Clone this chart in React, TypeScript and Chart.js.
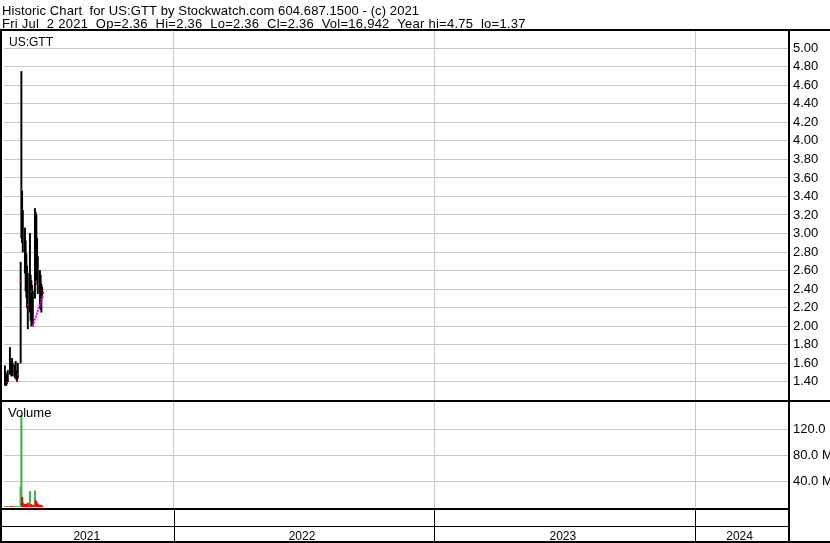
import React, { useEffect, useRef } from 'react';
import { Chart, registerables } from 'chart.js';

Chart.register(...registerables);

// ---------- data ----------
const tradeDates = [
  '2021-05-10', '2021-05-11', '2021-05-12', '2021-05-13', '2021-05-14',
  '2021-05-17', '2021-05-18', '2021-05-19', '2021-05-20', '2021-05-21',
  '2021-05-24', '2021-05-25', '2021-05-26', '2021-05-27', '2021-05-28',
  '2021-06-01', '2021-06-02', '2021-06-03', '2021-06-04',
  '2021-06-07', '2021-06-08', '2021-06-09', '2021-06-10', '2021-06-11',
  '2021-06-14', '2021-06-15', '2021-06-16', '2021-06-17', '2021-06-18',
  '2021-06-21', '2021-06-22', '2021-06-23', '2021-06-24', '2021-06-25',
  '2021-06-28', '2021-06-29', '2021-06-30', '2021-07-01', '2021-07-02',
];
const highs = [
  1.57, 1.50, 1.47, 1.45, 1.52,
  1.77, 1.62, 1.58, 1.65, 1.60,
  1.58, 1.62, 1.52, 1.47, 1.60,
  2.69, 4.75, 3.46, 3.25,
  3.06, 2.92, 2.78, 2.65, 2.57,
  3.00, 2.55, 2.49, 2.44, 2.38,
  3.27, 3.23, 3.20, 2.95, 2.75,
  2.60, 2.55, 2.45, 2.42, 2.37,
];
const lows = [
  1.36, 1.37, 1.36, 1.38, 1.40,
  1.48, 1.48, 1.46, 1.50, 1.46,
  1.44, 1.47, 1.42, 1.40, 1.44,
  1.60, 2.95, 2.90, 2.80,
  2.57, 2.38, 2.31, 2.20, 1.97,
  2.15, 2.06, 2.00, 2.04, 2.00,
  2.30, 2.45, 2.55, 2.50, 2.35,
  2.20, 2.18, 2.15, 2.30, 2.35,
];
// volume in millions of shares
const volumes = [
  0.3, 0.4, 0.3, 0.4, 0.5,
  1.0, 0.6, 0.4, 0.5, 0.4,
  0.3, 0.5, 0.4, 0.8, 1.2,
  31, 142, 15, 6,
  4, 3, 4, 3, 6,
  24, 4, 3, 2.5, 3,
  25, 10, 8, 5, 4,
  3, 2, 2, 1.5, 0.017,
];
const volumeDirection = [
  'up', 'up', 'down', 'down', 'up',
  'up', 'up', 'down', 'down', 'down',
  'down', 'up', 'down', 'up', 'up',
  'up', 'up', 'down', 'down',
  'down', 'down', 'down', 'down', 'down',
  'up', 'down', 'down', 'down', 'down',
  'up', 'down', 'down', 'down', 'down',
  'down', 'down', 'down', 'down', 'down',
];
const closeMarkDates = ['2021-05-13', '2021-05-27', '2021-05-28', '2021-06-01', '2021-06-02', '2021-06-11', '2021-06-16', '2021-06-21', '2021-07-02'];
const closeMarkValues = [1.39, 1.41, 1.48, 2.49, 3.48, 2.23, 2.37, 2.47, 2.36];
const trendDates = ['2021-06-18', '2021-07-02'];
const trendValues = [2.00, 2.33];

const priceTicks = [1.4, 1.6, 1.8, 2.0, 2.2, 2.4, 2.6, 2.8, 3.0, 3.2, 3.4, 3.6, 3.8, 4.0, 4.2, 4.4, 4.6, 4.8, 5.0];
const volumeTicks = [40, 80, 120];
const yearLabels = ['2021', '2022', '2023', '2024'];
const yearStarts = ['2021-01-01', '2022-01-01', '2023-01-01', '2024-01-01', '2025-01-01'];

const headerLine1 = 'Historic Chart  for US:GTT by Stockwatch.com 604.687.1500 - (c) 2021';
const headerLine2 = 'Fri Jul  2 2021  Op=2.36  Hi=2.36  Lo=2.36  Cl=2.36  Vol=16,942  Year hi=4.75  lo=1.37';
const symbolLabel = 'US:GTT';
const volumeLabel = 'Volume';

// ---------- helpers ----------
const dayNum = (s: string) => {
  const [y, m, d] = s.split('-').map(Number);
  return (Date.UTC(y, m - 1, d) - Date.UTC(2021, 0, 1)) / 86400000;
};

const FONT = '"Liberation Sans", Arial, sans-serif';
const GRID = '#c8c8c8';

const framePlugin = {
  id: 'stockwatchFrame',
  afterDraw(chart: any) {
    const ctx = chart.ctx as CanvasRenderingContext2D;
    const xs = chart.scales.x;
    const W = chart.width;
    const H = chart.height;
    const area = chart.chartArea;
    ctx.save();
    ctx.fillStyle = '#000';
    ctx.textAlign = 'left';
    ctx.textBaseline = 'alphabetic';
    ctx.font = `13px ${FONT}`;
    (ctx as any).letterSpacing = '0.1px';
    ctx.fillText(headerLine1, 2, 14.5);
    (ctx as any).letterSpacing = '0.25px';
    ctx.fillText(headerLine2, 2, 27.5);
    (ctx as any).letterSpacing = '0px';

    // frame lines
    ctx.fillRect(0, 29, W, 2);
    ctx.fillRect(0, 29, 2, H - 29);
    ctx.fillRect(area.right, 29, 2, H - 29);
    ctx.fillRect(0, 400, W, 2);
    ctx.fillRect(0, 508, area.right, 2);
    ctx.fillRect(0, 526, area.right, 1);
    ctx.fillRect(0, 541, W, 2);

    // year separators + labels
    const starts = yearStarts.map(dayNum);
    for (let i = 1; i < starts.length - 1; i++) {
      const px = Math.round(xs.getPixelForValue(starts[i]));
      if (px > area.left && px < area.right) ctx.fillRect(px, 510, 1, 31);
    }
    ctx.font = `12px ${FONT}`;
    ctx.textAlign = 'center';
    yearLabels.forEach((lab, i) => {
      const a = Math.max(area.left, xs.getPixelForValue(starts[i]));
      const b = Math.min(area.right, xs.getPixelForValue(starts[i + 1]));
      if (b > a) ctx.fillText(lab, (a + b) / 2 - 2, 539.5);
    });

    ctx.textAlign = 'left';
    ctx.font = `12px ${FONT}`;
    ctx.fillText(symbolLabel, 9, 45.5);
    ctx.font = `13px ${FONT}`;
    ctx.fillText(volumeLabel, 8, 417);
    ctx.restore();
  },
};

export default function App() {
  const ref = useRef<HTMLCanvasElement | null>(null);

  useEffect(() => {
    if (!ref.current) return;
    const priceData = tradeDates.map((d, i) => ({ x: dayNum(d), y: [lows[i], highs[i]] }));
    const volData = tradeDates.map((d, i) => ({ x: dayNum(d), y: volumes[i] }));
    const volColors = volumeDirection.map((v) => (v === 'up' ? '#4caf50' : '#ff0000'));
    const marks = closeMarkDates.map((d, i) => ({ x: dayNum(d), y: closeMarkValues[i] }));
    const trend = trendDates.map((d, i) => ({ x: dayNum(d), y: trendValues[i] }));

    const chart = new Chart(ref.current, {
      type: 'bar',
      data: {
        datasets: [
          {
            type: 'line',
            data: marks as any,
            yAxisID: 'y',
            showLine: false,
            pointStyle: 'rect',
            pointRadius: 1.1,
            pointBackgroundColor: '#ff0000',
            pointBorderWidth: 0,
            borderWidth: 0,
            order: 0,
          } as any,
          {
            type: 'line',
            data: trend as any,
            yAxisID: 'y',
            borderColor: '#ff00ff',
            borderWidth: 2,
            borderDash: [2, 1],
            pointRadius: 0,
            order: 1,
          } as any,
          {
            type: 'bar',
            data: priceData as any,
            yAxisID: 'y',
            backgroundColor: '#000',
            barThickness: 1.3,
            grouped: false,
            order: 2,
          } as any,
          {
            type: 'bar',
            data: volData as any,
            yAxisID: 'yv',
            backgroundColor: volColors,
            barThickness: 1.5,
            grouped: false,
            order: 3,
          } as any,
        ],
      },
      options: {
        animation: false,
        responsive: false,
        devicePixelRatio: 1,
        events: [],
        layout: { padding: { left: 2, top: 31, right: 0, bottom: 36 } },
        plugins: { legend: { display: false }, tooltip: { enabled: false } },
        scales: {
          x: {
            type: 'linear',
            min: 127.7,
            max: 1224.8,
            offset: false,
            grid: { color: GRID, drawTicks: false, offset: false },
            border: { display: false },
            ticks: { display: false },
            afterBuildTicks: (axis: any) => {
              axis.ticks = yearStarts.slice(1, 4).map((s) => ({ value: dayNum(s) }));
            },
            afterFit: (axis: any) => {
              axis.height = 0;
            },
          },
          y: {
            type: 'linear',
            position: 'right',
            stack: 'panels',
            stackWeight: 370,
            min: 1.191,
            max: 5.187,
            grid: { color: GRID, drawTicks: false },
            border: { display: false },
            ticks: {
              padding: 5,
              autoSkip: false,
              color: '#000',
              font: { family: FONT, size: 13 },
              callback: (v: any) => Number(v).toFixed(2),
            },
            afterBuildTicks: (axis: any) => {
              axis.ticks = priceTicks.map((v) => ({ value: v }));
            },
            afterFit: (axis: any) => {
              axis.width = 42;
            },
          } as any,
          yv: {
            type: 'linear',
            position: 'right',
            stack: 'panels',
            stackWeight: 106,
            min: 0,
            max: 164,
            grid: { color: GRID, drawTicks: false },
            border: { display: false },
            ticks: {
              padding: 5,
              autoSkip: false,
              color: '#000',
              font: { family: FONT, size: 13 },
              callback: (v: any) => Number(v).toFixed(1) + ' M',
            },
            afterBuildTicks: (axis: any) => {
              axis.ticks = volumeTicks.map((v) => ({ value: v }));
            },
            afterFit: (axis: any) => {
              axis.width = 42;
            },
          } as any,
        },
      },
      plugins: [framePlugin],
    });
    return () => chart.destroy();
  }, []);

  return (
    <div style={{ position: 'absolute', left: 0, top: 0, width: 830, height: 543, background: '#fff' }}>
      <canvas ref={ref} width={830} height={543} style={{ display: 'block' }} />
    </div>
  );
}
